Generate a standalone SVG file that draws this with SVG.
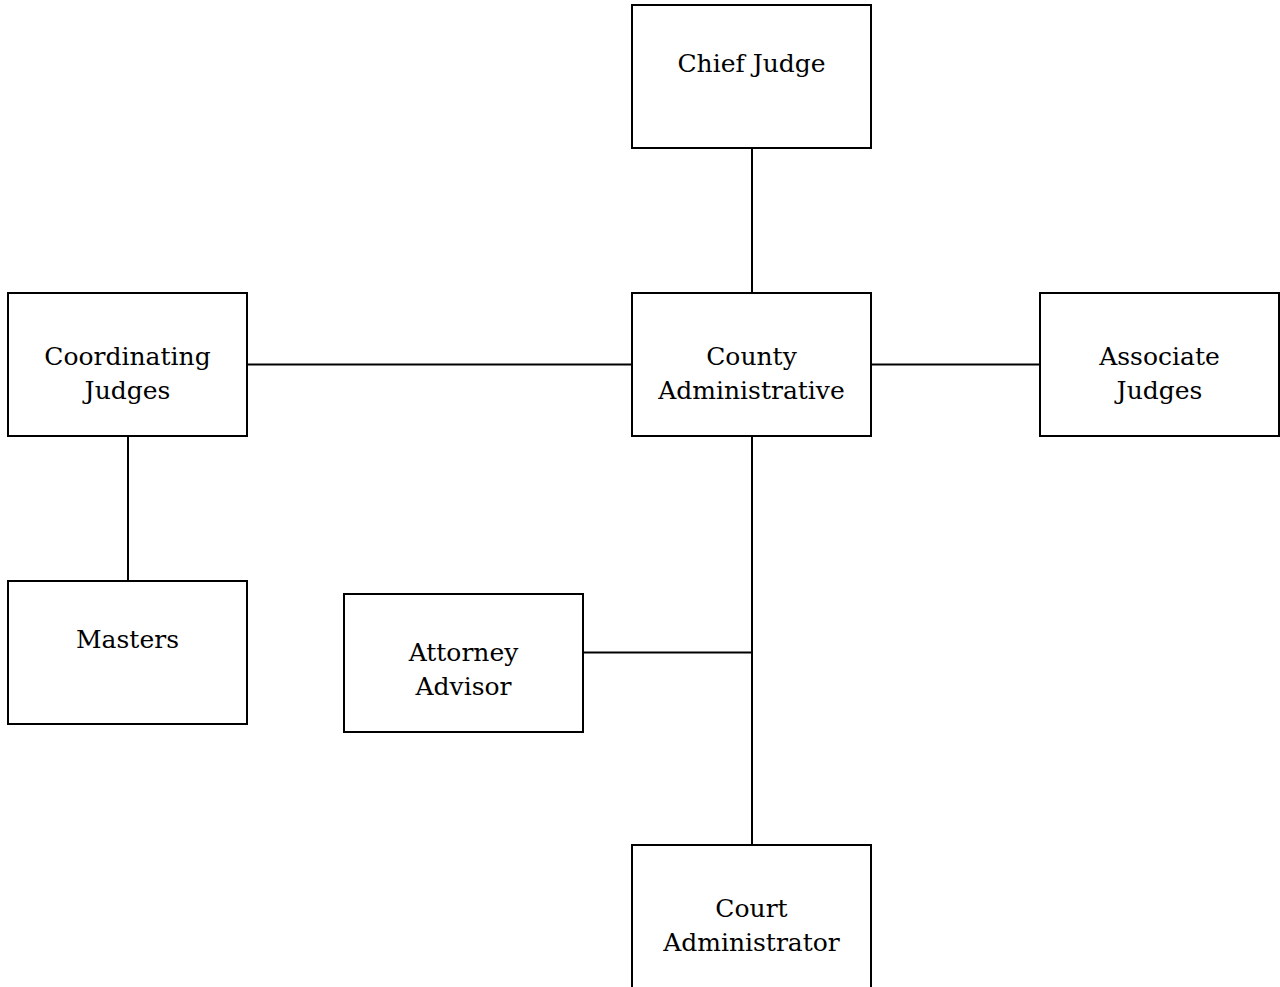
<svg xmlns="http://www.w3.org/2000/svg" width="1280" height="987" viewBox="0 0 1280 987">
<style>
.box{fill:#fff;stroke:#000;stroke-width:2}
.lbl{font-family:"DejaVu Serif","Liberation Serif",serif;font-size:25px;fill:#000;text-anchor:middle}
.conn line{stroke:#000;stroke-width:2}
</style>
<rect width="1280" height="987" fill="#fff"/>
<g id="connectors" class="conn">
<line x1="752" y1="148" x2="752" y2="293"/>
<line x1="247" y1="364.5" x2="632" y2="364.5"/>
<line x1="871" y1="364.5" x2="1040" y2="364.5"/>
<line x1="128" y1="436" x2="128" y2="581"/>
<line x1="752" y1="436" x2="752" y2="845"/>
<line x1="583" y1="652.5" x2="752" y2="652.5"/>
</g>
<g id="chief-judge">
<rect class="box" x="632" y="5" width="239" height="143"/>
<text class="lbl" x="751.5" y="72">Chief Judge</text>
</g>
<g id="county-administrative">
<rect class="box" x="632" y="293" width="239" height="143"/>
<text class="lbl" x="751.5" y="365">County</text>
<text class="lbl" x="751.5" y="399">Administrative</text>
</g>
<g id="coordinating-judges">
<rect class="box" x="8" y="293" width="239" height="143"/>
<text class="lbl" x="127.5" y="365">Coordinating</text>
<text class="lbl" x="127.5" y="399">Judges</text>
</g>
<g id="associate-judges">
<rect class="box" x="1040" y="293" width="239" height="143"/>
<text class="lbl" x="1159.5" y="365">Associate</text>
<text class="lbl" x="1159.5" y="399">Judges</text>
</g>
<g id="masters">
<rect class="box" x="8" y="581" width="239" height="143"/>
<text class="lbl" x="127.5" y="648">Masters</text>
</g>
<g id="attorney-advisor">
<rect class="box" x="344" y="594" width="239" height="138"/>
<text class="lbl" x="463.5" y="661">Attorney</text>
<text class="lbl" x="463.5" y="695">Advisor</text>
</g>
<g id="court-administrator">
<rect class="box" x="632" y="845" width="239" height="143"/>
<text class="lbl" x="751.5" y="917">Court</text>
<text class="lbl" x="751.5" y="951">Administrator</text>
</g>
</svg>
